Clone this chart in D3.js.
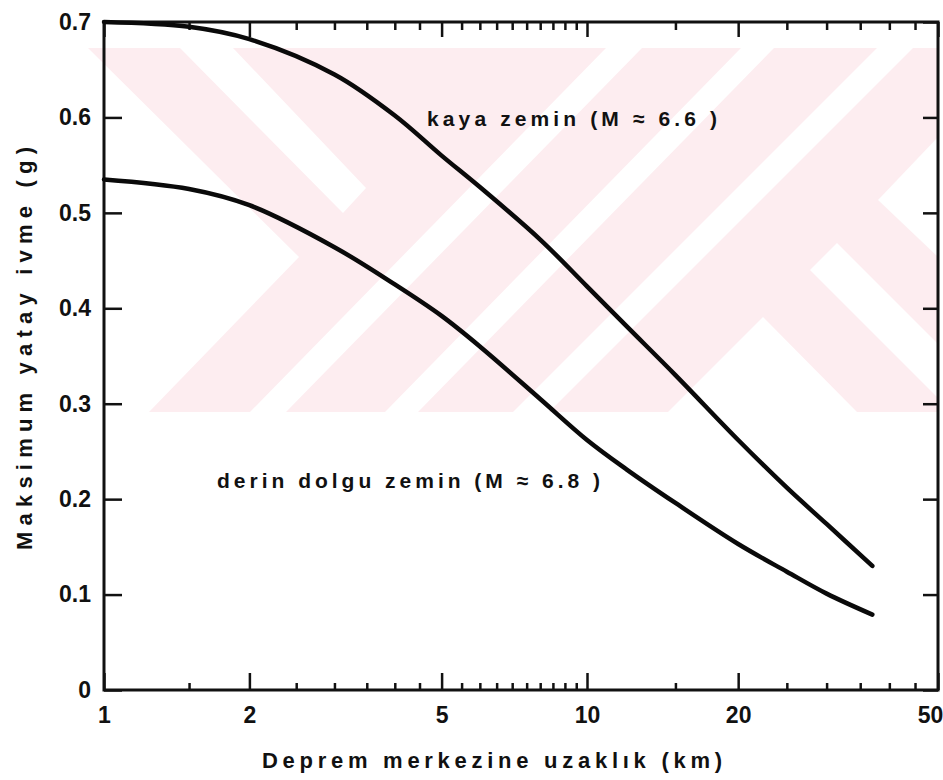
<!DOCTYPE html>
<html>
<head>
<meta charset="utf-8">
<script src="https://cdn.jsdelivr.net/npm/d3@7"></script>
<style>
  html, body { margin: 0; padding: 0; background: #ffffff; }
  svg { display: block; }
  text { font-family: "Liberation Sans", Arial, sans-serif; font-weight: bold; fill: #111; }
</style>
</head>
<body>
<svg id="chart" width="943" height="780"></svg>
<script>
// ---- data ----
const distances   = [1, 1.5, 2, 3, 4, 5, 6, 8, 10, 12, 15, 20, 25, 30, 37];
const rockPGA     = [0.700, 0.695, 0.682, 0.645, 0.602, 0.560, 0.527, 0.472, 0.423, 0.381, 0.330, 0.262, 0.212, 0.174, 0.130];
const deepSoilPGA = [0.535, 0.525, 0.508, 0.464, 0.425, 0.392, 0.360, 0.305, 0.262, 0.231, 0.196, 0.153, 0.124, 0.101, 0.079];

const xMajorTicks = [1, 2, 5, 10, 20, 50];
const xMinorTicks = [1.5, 2.5, 3, 3.5, 4, 4.5, 5.5, 6, 6.5, 7, 7.5, 8, 8.5, 9, 9.5, 15, 25, 30, 35, 40, 45];
const yTicks      = [0, 0.1, 0.2, 0.3, 0.4, 0.5, 0.6, 0.7];

const seriesLabels = ["kaya zemin (M ≈ 6.6 )", "derin dolgu zemin (M ≈ 6.8 )"];
const xTitle = "Deprem merkezine uzaklık (km)";
const yTitle = "Maksimum yatay ivme (g)";

// ---- layout ----
const svg = d3.select("#chart");
const x = d3.scaleLog().domain([1, 10, 50]).range([104, 587, 938]);
const y = d3.scaleLinear().domain([0, 0.7]).range([690, 22]);

// ---- background watermark (decorative, pale pink chevrons) ----
const wmPink = "#fdedf0";
const wm = svg.append("g").attr("class", "watermark");
wm.append("rect").attr("x", 86).attr("y", 48).attr("width", 852).attr("height", 364).attr("fill", wmPink);
const wmWhite = [
  [[88,48],[299,257],[149,412],[86,412],[86,48]],
  [[180,48],[233,48],[366,188],[343,213]],
  [[250,412],[286,412],[642,48],[606,48]],
  [[385,412],[418,412],[774,48],[741,48]],
  [[513,412],[549,412],[913,48],[877,48]],
  [[763,317],[857,412],[668,412]],
  [[810,270],[837,243],[938,344],[938,398]],
  [[878,200],[938,137],[938,257]]
];
wm.selectAll("polygon").data(wmWhite).join("polygon")
  .attr("points", d => d.map(p => p.join(",")).join(" "))
  .attr("fill", "#ffffff");

// ---- axes ----
function styleAxis(g, w) {
  g.select(".domain").remove();
  g.selectAll(".tick line").attr("stroke", "#111").attr("stroke-width", w);
  g.selectAll(".tick text").style("font-size", "23px").style("font-weight", "bold")
    .style("font-family", '"Liberation Sans", Arial, sans-serif').attr("fill", "#111");
}

// bottom
svg.append("g").attr("transform", `translate(0,${y(0)})`)
  .call(d3.axisBottom(x).tickValues(xMajorTicks).tickSizeInner(-17).tickSizeOuter(0).tickPadding(17).tickFormat(d3.format("d")))
  .call(g => styleAxis(g, 2.5))
  .call(g => g.selectAll(".tick text").filter(d => d === 50).attr("x", -8));
svg.append("g").attr("transform", `translate(0,${y(0)})`)
  .call(d3.axisBottom(x).tickValues(xMinorTicks).tickSizeInner(-7).tickSizeOuter(0).tickFormat(""))
  .call(g => styleAxis(g, 2.5));
// top
svg.append("g").attr("transform", `translate(0,${y(0.7)})`)
  .call(d3.axisTop(x).tickValues(xMajorTicks).tickSizeInner(-15).tickSizeOuter(0).tickFormat(""))
  .call(g => styleAxis(g, 2.5));
svg.append("g").attr("transform", `translate(0,${y(0.7)})`)
  .call(d3.axisTop(x).tickValues(xMinorTicks).tickSizeInner(-8).tickSizeOuter(0).tickFormat(""))
  .call(g => styleAxis(g, 2.5));
// left
svg.append("g").attr("transform", `translate(${x(1)},0)`)
  .call(d3.axisLeft(y).tickValues(yTicks).tickSizeInner(-18).tickSizeOuter(0).tickPadding(13)
    .tickFormat(d => d === 0 ? "0" : d3.format(".1f")(d)))
  .call(g => styleAxis(g, 2.5));
// right
svg.append("g").attr("transform", `translate(${x(50)},0)`)
  .call(d3.axisRight(y).tickValues(yTicks).tickSizeInner(-15).tickSizeOuter(0).tickFormat(""))
  .call(g => styleAxis(g, 2.5));

// frame
svg.append("rect")
  .attr("x", x(1)).attr("y", y(0.7))
  .attr("width", x(50) - x(1)).attr("height", y(0) - y(0.7))
  .attr("fill", "none").attr("stroke", "#111").attr("stroke-width", 3);

// ---- curves ----
const line = d3.line().x(d => x(d[0])).y(d => y(d[1])).curve(d3.curveCatmullRom.alpha(0.5));
const series = [rockPGA, deepSoilPGA];
svg.selectAll("path.curve").data(series).join("path")
  .attr("class", "curve")
  .attr("d", vals => line(distances.map((dd, i) => [dd, vals[i]])))
  .attr("fill", "none").attr("stroke", "#0a0a0a").attr("stroke-width", 4.5)
  .attr("stroke-linecap", "round").attr("stroke-linejoin", "round");

// ---- curve labels ----
svg.append("text").attr("x", 427).attr("y", 126)
  .attr("textLength", 290).attr("lengthAdjust", "spacing")
  .style("font-size", "21px").text(seriesLabels[0]);
svg.append("text").attr("x", 217).attr("y", 488)
  .attr("textLength", 383).attr("lengthAdjust", "spacing")
  .style("font-size", "21px").text(seriesLabels[1]);

// ---- titles ----
svg.append("text").attr("x", 262).attr("y", 768)
  .attr("textLength", 460).attr("lengthAdjust", "spacing")
  .style("font-size", "22px").text(xTitle);
svg.append("text")
  .attr("transform", "translate(32,550) rotate(-90)")
  .attr("x", 0).attr("y", 0)
  .attr("textLength", 403).attr("lengthAdjust", "spacing")
  .style("font-size", "22px").text(yTitle);
</script>
</body>
</html>
